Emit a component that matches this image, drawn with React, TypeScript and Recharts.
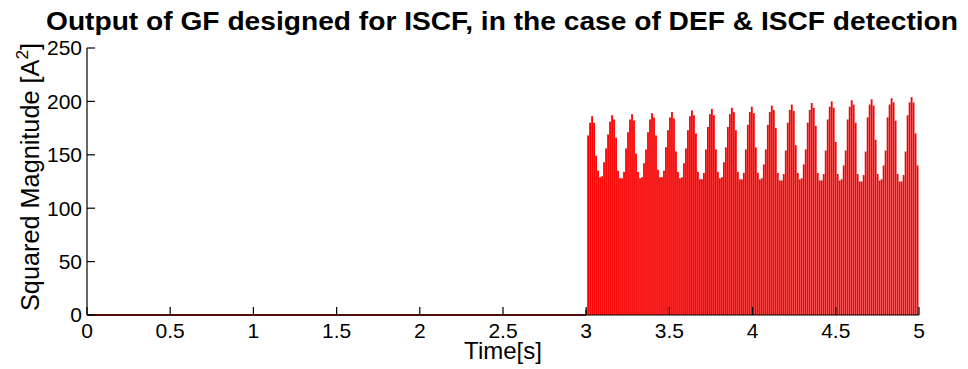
import { Bar, ComposedChart, Line, XAxis, YAxis } from 'recharts'

// sampled GF output, one value every 12 ms starting at t = 3 s (before that it is zero)
const sampleStart = 3
const sampleStep = 0.012
const magnitude = [
  5, 168, 180,
  186, 180, 149, 135, 129, 130, 143, 156, 169, 181,
  187, 183, 166, 135, 128, 128, 134, 156, 171, 183,
  188, 182, 151, 134, 128, 129, 142, 155, 171, 183,
  189, 185, 168, 136, 129, 129, 135, 157, 173, 185,
  190, 184, 153, 134, 128, 129, 142, 156, 173, 186,
  191.5, 187, 170, 134, 127, 127, 133, 155, 176, 188,
  193, 187, 155, 134, 128, 129, 143, 157, 176, 188,
  194, 190, 173, 134, 127, 127, 133, 155, 178, 190,
  195, 189, 157, 133, 127, 128, 141, 155, 178, 190,
  196, 192, 175, 133, 126, 126, 132, 154, 180, 192,
  197, 191, 159, 133, 127, 128, 141, 155, 180, 192,
  198.5, 194, 177, 133, 126, 126, 132, 154, 183, 195,
  200, 194, 162, 132, 126, 127, 140, 154, 183, 195,
  201, 197, 180, 132, 125, 125, 131, 153, 185, 197,
  202, 196, 164, 132, 126, 127, 140, 154, 185, 197,
  203, 199, 182, 132, 125, 125, 131, 153, 187, 199,
  204, 199, 170, 140,
]
const zeroStart = 0
const xTicks = [0, 0.5, 1, 1.5, 2, 2.5, 3, 3.5, 4, 4.5, 5]
const yTicks = [0, 50, 100, 150, 200, 250]

const rows = [
  { t: zeroStart, zero: 0 },
  ...magnitude.map((v, i) => {
    const t = Number((sampleStart + i * sampleStep).toFixed(3))
    return i === 0 ? { t, v, zero: 0 } : { t, v }
  }),
]

const font = 'Liberation Sans, Arial, Helvetica, sans-serif'
const tickStyle = { fill: '#000', fontSize: 21, fontFamily: font }
const axisStroke = { stroke: '#000', strokeWidth: 1.2 }
const blank = () => ''

export default function App() {
  return (
    <div style={{ position: 'absolute', left: 0, top: 0, width: 968, height: 369, background: '#fff' }}>
      <ComposedChart
        width={968}
        height={369}
        data={rows}
        margin={{ top: 48, right: 49, bottom: 24, left: 0 }}
        barCategoryGap={0}
        barGap={0}
      >
        <XAxis
          type="number"
          dataKey="t"
          domain={[0, 5]}
          ticks={xTicks}
          interval={0}
          height={30}
          tick={tickStyle}
          tickSize={-8}
          tickMargin={16}
          axisLine={axisStroke}
          tickLine={axisStroke}
        />
        <XAxis
          xAxisId="top"
          orientation="top"
          type="number"
          dataKey="t"
          domain={[0, 5]}
          ticks={xTicks}
          interval={0}
          height={0}
          tickFormatter={blank}
          tickSize={-8}
          axisLine={axisStroke}
          tickLine={axisStroke}
        />
        <YAxis
          type="number"
          domain={[0, 250]}
          ticks={yTicks}
          interval={0}
          width={87}
          tick={tickStyle}
          tickSize={-8}
          tickMargin={13}
          axisLine={axisStroke}
          tickLine={axisStroke}
        />
        <YAxis
          yAxisId="right"
          orientation="right"
          type="number"
          domain={[0, 250]}
          ticks={yTicks}
          interval={0}
          width={0}
          tickFormatter={blank}
          tickSize={-8}
          axisLine={axisStroke}
          tickLine={axisStroke}
        />
        <Bar
          dataKey="v"
          fill="#ff0000"
          stroke="rgba(90,90,90,0.18)"
          strokeWidth={0.3}
          barSize={2}
          isAnimationActive={false}
        />
        <Line
          dataKey="zero"
          stroke="#9b1a1a"
          strokeWidth={2}
          dot={false}
          activeDot={false}
          isAnimationActive={false}
        />
      </ComposedChart>
      <svg
        width={968}
        height={369}
        style={{ position: 'absolute', left: 0, top: 0, pointerEvents: 'none' }}
        fontFamily={font}
      >
        <text x={502} y={30} textAnchor="middle" fontSize={25} fontWeight="bold" textLength={912} lengthAdjust="spacingAndGlyphs">
          Output of GF designed for ISCF, in the case of DEF &amp; ISCF detection
        </text>
        <text x={503} y={359} textAnchor="middle" fontSize={24}>
          Time[s]
        </text>
        <text
          transform="translate(39,177) rotate(-90)"
          textAnchor="middle"
          fontSize={25}
          textLength={268}
          lengthAdjust="spacingAndGlyphs"
        >
          Squared Magnitude [A
          <tspan fontSize={17} dy={-11}>2</tspan>
          <tspan dy={11}>]</tspan>
        </text>
      </svg>
    </div>
  )
}
